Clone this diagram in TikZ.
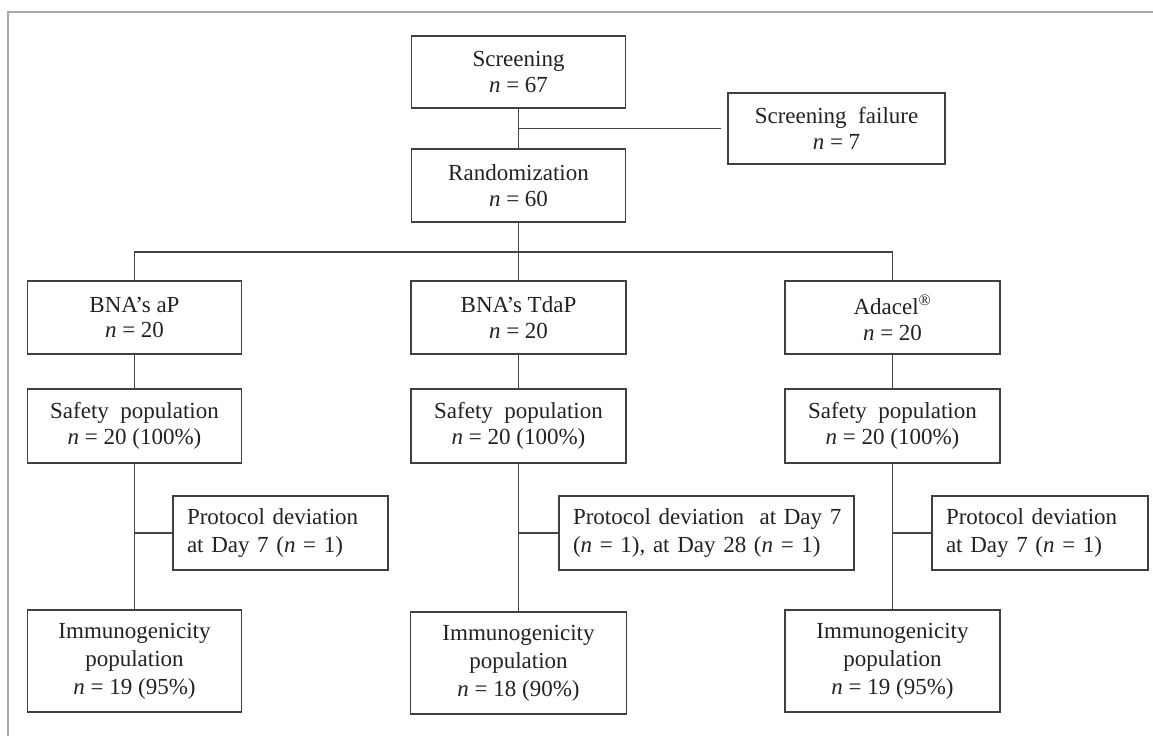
\documentclass[tikz,border=0pt]{standalone}
\usepackage{fontspec}
\setmainfont{Liberation Serif}
\definecolor{boxc}{HTML}{404040}
\definecolor{linec}{HTML}{454545}
\definecolor{txtc}{HTML}{222222}
\definecolor{framec}{HTML}{A8A8A8}
\begin{document}
\begin{tikzpicture}[x=1pt,y=-1pt,
  box/.style={draw=boxc, line width=1.7pt, inner sep=0pt, align=center, text=txtc,
    font=\fontsize{23}{25.5}\selectfont},
  mainbox/.style={box, minimum width=214pt, minimum height=73pt},
  immbox/.style={box, minimum width=214pt, minimum height=102pt,
    font=\fontsize{23}{28}\selectfont},
  pbox/.style={box, align=left, minimum height=74pt,
    font=\fontsize{23}{28.5}\selectfont},
  conn/.style={draw=linec, line width=1.6pt}]
\useasboundingbox (0,0) rectangle (1153,736);
\fill[white] (0,0) rectangle (1153,736);
\draw[framec, line width=1.5pt] (1153,12) -- (8,12) -- (8,736);

% top
\node[mainbox, minimum height=72pt] (scr) at (518.5,72) {Screening\\\textit{n} = 67};
\node[box, minimum width=217pt, minimum height=71pt] (fail) at (836.5,128.5) {Screening\ \ failure\\\textit{n} = 7};
\node[mainbox] (rand) at (518.5,185.5) {Randomization\\\textit{n} = 60};

% arms
\node[mainbox] (ap) at (134.5,317.5) {BNA’s aP\\\textit{n} = 20};
\node[mainbox, minimum width=215pt] (tdap) at (518.5,317.5) {BNA’s TdaP\\\textit{n} = 20};
\node[mainbox, minimum width=215pt] (ada) at (892.5,317.5) {Adacel\textsuperscript{®}\\\textit{n} = 20};

% safety
\node[mainbox, minimum height=74pt] (s1) at (134.5,426) {Safety\ \ population\\\textit{n} = 20 (100\%)};
\node[mainbox, minimum width=215pt, minimum height=74pt] (s2) at (518.5,426) {Safety\ \ population\\\textit{n} = 20 (100\%)};
\node[mainbox, minimum width=215pt, minimum height=74pt] (s3) at (892.5,426) {Safety\ \ population\\\textit{n} = 20 (100\%)};

% protocol deviations
\node[pbox, minimum width=215pt, text width=187pt] (p1) at (280.5,533) {Protocol deviation\\at Day 7 (\textit{n} = 1)};
\node[pbox, minimum width=295pt, text width=267pt] (p2) at (706.5,533) {\mbox{Protocol deviation\ \ at Day 7}\\\mbox{(\textit{n} = 1), at Day 28 (\textit{n} = 1)}};
\node[pbox, minimum width=216pt, text width=188pt] (p3) at (1040,533) {Protocol deviation\\at Day 7 (\textit{n} = 1)};

% immunogenicity
\node[immbox] (i1) at (134.5,661) {Immunogenicity\\population\\\textit{n} = 19 (95\%)};
\node[immbox, minimum width=216pt] (i2) at (518.5,663) {Immunogenicity\\population\\\textit{n} = 18 (90\%)};
\node[immbox, minimum width=215pt] (i3) at (892.5,661) {Immunogenicity\\population\\\textit{n} = 19 (95\%)};

% connectors
\draw[conn] (scr.south) -- (rand.north);
\draw[conn, shorten >=6pt] (scr.south |- fail.west) -- (fail.west);
\coordinate (bus) at (518.5,252);
\draw[conn] (rand.south) -- (tdap.north);
\draw[conn] (ap.north) |- (bus) -| (ada.north);

\draw[conn] (ap.south) -- (s1.north);
\draw[conn] (tdap.south) -- (s2.north);
\draw[conn] (ada.south) -- (s3.north);

\draw[conn] (s1.south) -- (i1.north);
\draw[conn] (s2.south) -- (i2.north);
\draw[conn] (s3.south) -- (i3.north);

\draw[conn] (s1.south |- p1.west) -- (p1.west);
\draw[conn] (s2.south |- p2.west) -- (p2.west);
\draw[conn] (s3.south |- p3.west) -- (p3.west);
\end{tikzpicture}
\end{document}
